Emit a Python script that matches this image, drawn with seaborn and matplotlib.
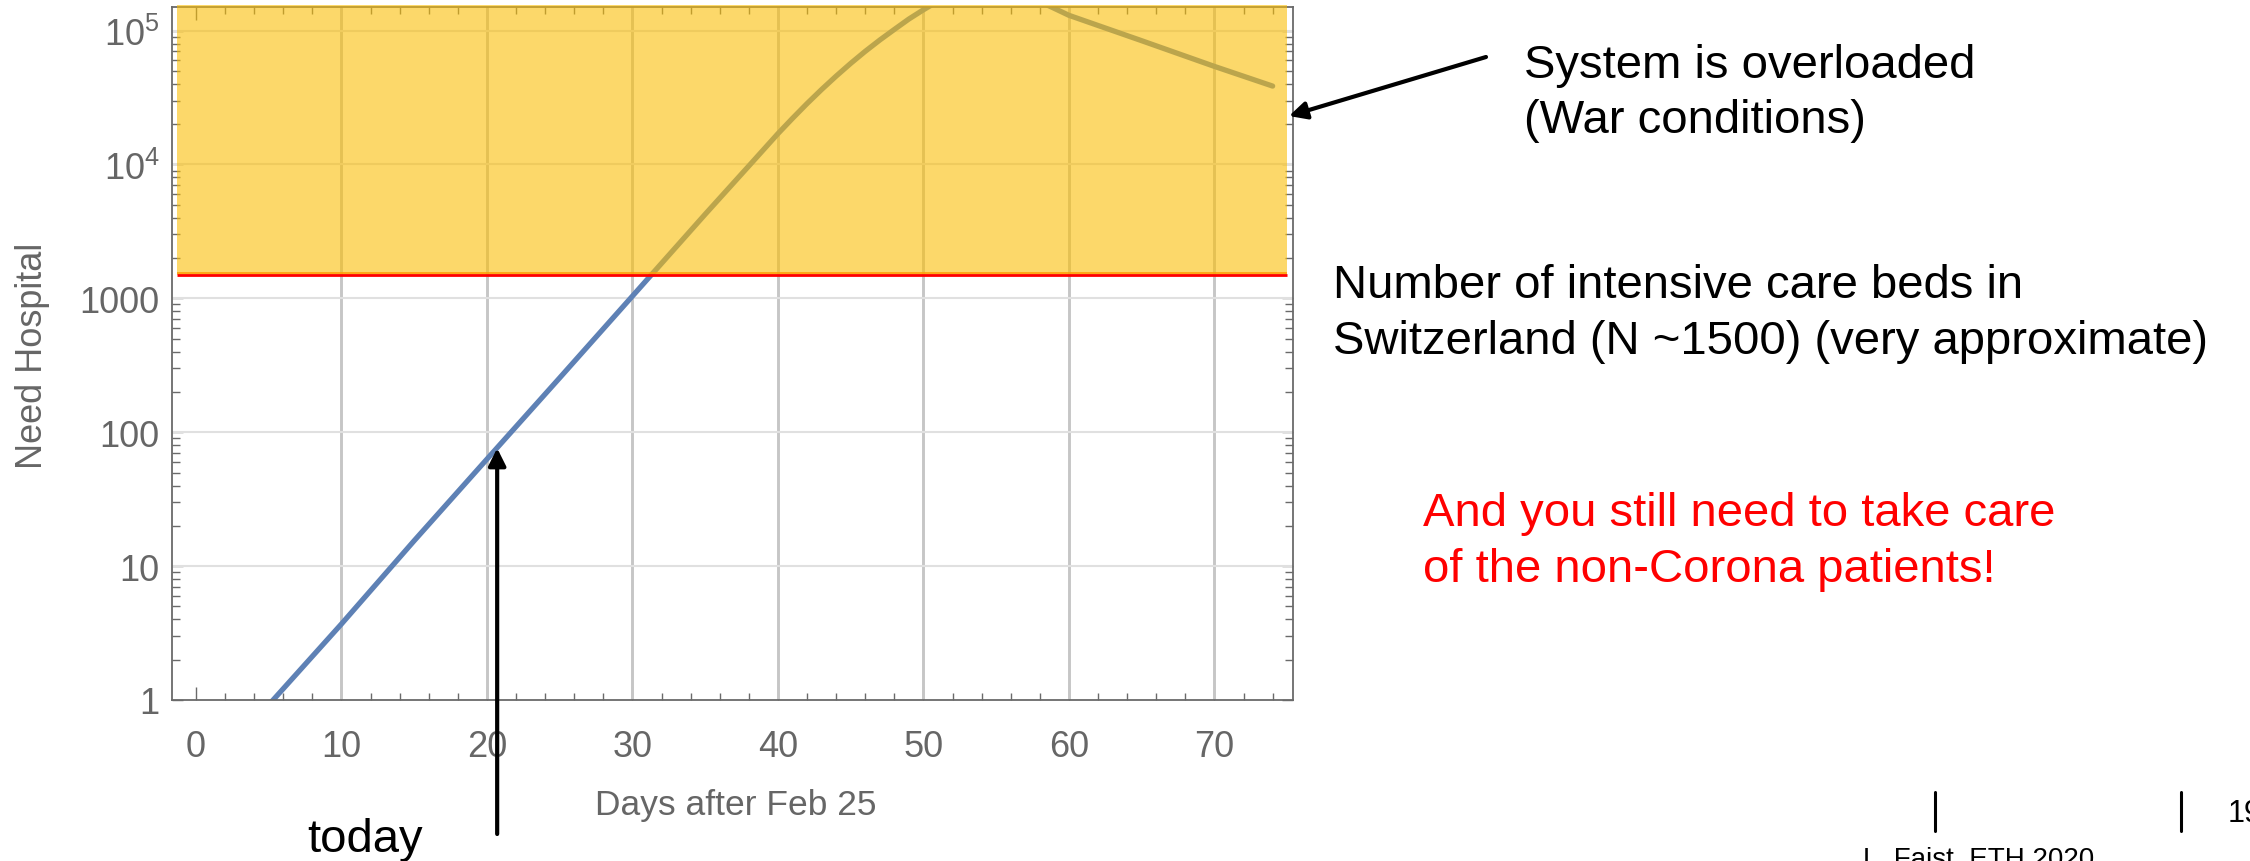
import matplotlib
matplotlib.use("Agg")
import numpy as np
import pandas as pd
import matplotlib.pyplot as plt
import matplotlib.transforms as mtransforms
from matplotlib.lines import Line2D
from matplotlib.ticker import FixedLocator, MultipleLocator, LogLocator, NullFormatter, FixedFormatter
import seaborn as sns

# ---------------- data ----------------
days = [5, 10, 15, 20, 25, 30, 35, 38, 40, 41, 42, 43, 44, 45, 46, 47, 48, 49, 50, 51,
        52.5, 55, 57.5, 60, 65, 70, 74]
need_hospital = [0.92, 3.7, 15.5, 63, 255, 1040, 4250, 9750, 17000, 22100, 28500, 36300,
                 45700, 56900, 70000, 85000, 102000, 122000, 143000, 166000,
                 200000, 225000, 175000, 130000, 84000, 54000, 38500]
icu_beds = 1500
today_day = 20.7
today_value = 76
x_ticks = [0, 10, 20, 30, 40, 50, 60, 70]
x_tick_labels = ["0", "10", "20", "30", "40", "50", "60", "70"]
grid_days = [10, 20, 30, 40, 50, 60, 70]
y_ticks = [1, 10, 100, 1000, 1e4, 1e5]
y_tick_labels = ["1", "10", "100", "1000", r"$\mathregular{10^4}$", r"$\mathregular{10^5}$"]

# ---------------- style ----------------
sns.set_theme(style="white")
plt.rcParams['font.family'] = ['Liberation Sans', 'DejaVu Sans']
plt.rcParams['mathtext.fontset'] = 'custom'
plt.rcParams['mathtext.rm'] = 'Liberation Sans'
plt.rcParams['mathtext.it'] = 'Liberation Sans:italic'
plt.rcParams['mathtext.bf'] = 'Liberation Sans:bold'

W, H = 2250, 862
fig = plt.figure(figsize=(W / 100, H / 100), dpi=100)
fig.patch.set_facecolor("white")

ax_l, ax_r, ax_t, ax_b = 172, 1293, 8, 701
ax = fig.add_axes([ax_l / W, 1 - ax_b / H, (ax_r - ax_l) / W, (ax_b - ax_t) / H])
ax.set_facecolor("white")

df = pd.DataFrame({"day": days, "need": need_hospital})
sns.lineplot(data=df, x="day", y="need", ax=ax, color="#5E81B5", lw=3.8, zorder=2)

ax.set_yscale("log")
ax.set_xlim(-1.65, 75.4)
ax.set_ylim(1, 1.5e5)

# grid
for d in grid_days:
    ax.axvline(d, color="#C6C6C6", lw=2.1, zorder=1)
for v in y_ticks[1:]:
    ax.axhline(v, color="#E0E0E0", lw=1.5, zorder=1)

# ticks
ax.xaxis.set_major_locator(FixedLocator(x_ticks))
ax.xaxis.set_major_formatter(FixedFormatter(x_tick_labels))
ax.xaxis.set_minor_locator(MultipleLocator(2))
ax.yaxis.set_major_locator(FixedLocator(y_ticks))
ax.yaxis.set_major_formatter(FixedFormatter(y_tick_labels))
ax.yaxis.set_minor_locator(LogLocator(base=10, subs=np.arange(2, 10)))
ax.yaxis.set_minor_formatter(NullFormatter())

tick_col = "#6A6A6A"
ax.tick_params(axis="x", which="both", direction="in", top=True, bottom=True,
               color=tick_col, width=1.0, labelsize=26, labelcolor="#666666", pad=21)
ax.tick_params(axis="x", which="major", length=9.5)
ax.tick_params(axis="x", which="minor", length=5)
ax.tick_params(axis="y", which="both", direction="in", left=True, right=True,
               color=tick_col, width=1.0, labelsize=26, labelcolor="#666666", pad=9)
ax.tick_params(axis="y", which="major", length=8)
ax.tick_params(axis="y", which="minor", length=5.5)
for s in ax.spines.values():
    s.set_color(tick_col)
    s.set_linewidth(1.3)
ax.set_xlabel("")
ax.set_ylabel("")

# overloaded region (drawn on top, semi-transparent like the original)
fill_x0, fill_x1 = -1.3, 75.0
ax.fill_between([fill_x0, fill_x1], icu_beds, 1.56e5, color="#FABE07", alpha=0.6,
                lw=0, zorder=3, clip_on=False)
# capacity line (red with thin orange edge above)
ax.plot([fill_x0, fill_x1], [icu_beds, icu_beds], color="#FF0000", lw=2.0, zorder=4,
        solid_capstyle="butt")
off = mtransforms.ScaledTranslation(0, 1.6 / 72, fig.dpi_scale_trans)
ax.plot([fill_x0, fill_x1], [icu_beds, icu_beds], color="#FF9A00", lw=1.1, zorder=4,
        transform=ax.transData + off, solid_capstyle="butt")

# axis labels
fig.text(736 / W, 1 - 815 / H, "Days after Feb 25", ha="center", va="baseline",
         fontsize=25.5, color="#666666")
fig.text(33 / W, 1 - 356 / H, "Need Hospital", ha="center", va="center",
         rotation=90, fontsize=26, color="#666666")

# annotation texts
def ftext(x, y_base, s, **kw):
    fig.text(x / W, 1 - y_base / H, s, ha="left", va="baseline", **kw)

ftext(1524, 78, "System is overloaded", fontsize=34, color="black")
ftext(1524, 133, "(War conditions)", fontsize=34, color="black")
ftext(1333, 298, "Number of intensive care beds in", fontsize=34, color="black")
ftext(1333, 354, "Switzerland (N ~1500) (very approximate)", fontsize=34, color="black")
ftext(1423, 526, "And you still need to take care", fontsize=34, color="#FF0000")
ftext(1423, 582, "of the non-Corona patients!", fontsize=34, color="#FF0000")
ftext(307, 852, "today", fontsize=34, color="black")

# arrows
arrow_kw = dict(arrowstyle="-|>", color="black", lw=3, mutation_scale=26,
                shrinkA=0, shrinkB=0)
ax.annotate("", xy=(1289, H - 117), xycoords="figure pixels",
            xytext=(1486, H - 58), textcoords="figure pixels",
            arrowprops=arrow_kw, annotation_clip=False, zorder=6)
ax.annotate("", xy=(today_day, today_value), xycoords="data",
            xytext=(today_day, H - 835), textcoords=("data", "figure pixels"),
            arrowprops=dict(arrow_kw, capstyle="round"), annotation_clip=False, zorder=6)

# footer (cut off at the edges, as in the original slide)
for xb in (1935, 2181):
    fig.add_artist(Line2D([xb / W, xb / W], [1 - 832 / H, 1 - 793 / H],
                          color="black", lw=2.2, transform=fig.transFigure))
ftext(2228, 822, "19", fontsize=22, color="black")
ftext(1863, 867, "L. Faist, ETH 2020", fontsize=20, color="black")

fig.savefig("out.png", dpi=100, facecolor="white")
